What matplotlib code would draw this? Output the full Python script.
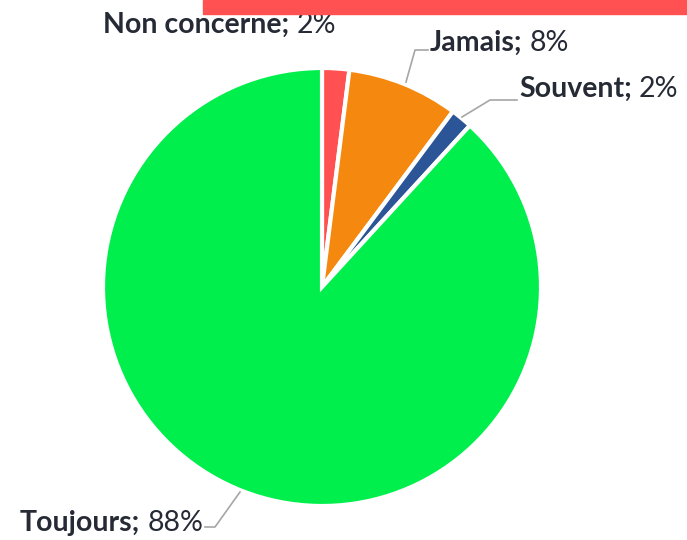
import matplotlib
matplotlib.use('Agg')
import matplotlib.pyplot as plt
from matplotlib.offsetbox import TextArea, HPacker, AnnotationBbox
from matplotlib.patches import Rectangle

labels = ['Non concerne', 'Jamais', 'Souvent', 'Toujours']
values = [2.0, 8.2, 1.6, 88.2]
pct_text = ['2%', '8%', '2%', '88%']
colors = ['#ff5151', '#f5890f', '#2c5597', '#00ef4c']

W, H = 687, 540
cx, cy, r = 322, 287, 219

fig = plt.figure(figsize=(W / 100, H / 100), dpi=100)
fig.patches.append(Rectangle((203 / W, 1 - 14 / H), 1 - 203 / W, 14 / H,
                             transform=fig.transFigure, color='#ff5151', zorder=0))

ax = fig.add_axes([(cx - r) / W, (H - cy - r) / H, 2 * r / W, 2 * r / H])
ax.pie(values, colors=colors, startangle=90, counterclock=False,
       wedgeprops=dict(edgecolor='white', linewidth=3))
ax.set_xlim(-1, 1)
ax.set_ylim(-1, 1)
ax.axis('off')


def px(x, y):
    return ((x - cx) / r, (cy - y) / r)


txt_color = '#252a35'
font = 'Lato'
fs = 20.5

# label text anchor (pixel), alignment, leader line points (pixel)
label_pos = [(103, 25, 0.0), (430, 43, 0.0), (519, 89, 0.0), (203, 523, 1.0)]
leaders = [None,
           [(406, 82), (415, 50), (428, 50)],
           [(462, 117), (490, 100), (517, 100)],
           [(240, 492), (215, 527), (205, 527)]]

for i in range(len(labels)):
    if leaders[i]:
        xs, ys = zip(*[px(x, y) for x, y in leaders[i]])
        ax.plot(xs, ys, color='#a6a6a6', lw=1.2, clip_on=False)
    a = TextArea(labels[i] + ';', textprops=dict(color=txt_color, fontsize=fs,
                                                fontweight='bold', family=font))
    b = TextArea(pct_text[i], textprops=dict(color=txt_color, fontsize=fs,
                                             family=font))
    box = HPacker(children=[a, b], pad=0, sep=5, align='baseline')
    x, y, ha = label_pos[i]
    ab = AnnotationBbox(box, px(x, y), xycoords='data', frameon=False,
                        box_alignment=(ha, 0.5), pad=0, annotation_clip=False)
    ax.add_artist(ab)

fig.savefig('out.png', dpi=100)
